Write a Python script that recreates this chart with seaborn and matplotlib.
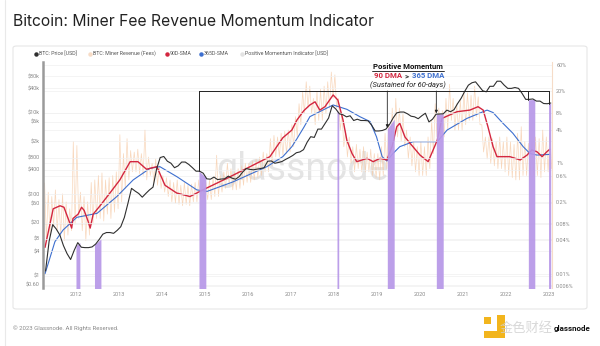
import numpy as np
import matplotlib
matplotlib.use("Agg")
import matplotlib.pyplot as plt
import seaborn as sns
from matplotlib.lines import Line2D
from matplotlib.patches import FancyBboxPatch, Rectangle
from matplotlib.ticker import NullLocator

# ---------------- data ----------------
# Monthly BTC price in USD, Apr 2011 .. Jan 2023
price_usd = [
    1.3, 7, 18, 14, 10, 5.5, 3.5, 2.5, 4.2,
    6.5, 5.0, 4.9, 4.9, 5.1, 6.0, 7.8, 10.5, 11.5, 11.5, 11.0, 13.0,
    16, 27, 60, 140, 120, 105, 85, 105, 128, 150, 420, 800,
    850, 650, 580, 450, 500, 620, 620, 540, 450, 370, 370, 330,
    240, 235, 265, 230, 237, 240, 280, 250, 235, 270, 350, 430,
    410, 400, 415, 430, 450, 650, 660, 580, 605, 640, 720, 800,
    900, 1050, 1100, 1250, 1900, 2600, 2500, 4000, 4000, 5500, 7500, 15000,
    12500, 9500, 9000, 8000, 8500, 6500, 7000, 6500, 6500, 6400, 5000, 3600,
    3600, 3700, 4000, 5200, 7500, 10000, 10500, 10500, 9500, 8300, 8000, 7200,
    8500, 9800, 6000, 7000, 9300, 9400, 9500, 11700, 10700, 12000, 17000, 23000,
    34000, 48000, 55000, 58000, 45000, 35000, 33000, 45000, 45000, 60000, 60000, 48000,
    40000, 40000, 42000, 40000, 30000, 21500, 21500, 22000, 19500, 19500, 17000, 16800,
    17500,
]

# Fee share of miner revenue (%), monthly high / low, Apr 2011 .. Jan 2023
fee_share_high = [
    0.44, 0.30, 0.25, 0.33, 0.22, 0.28, 0.20, 0.15, 2.5,
    2.1, 0.30, 0.25, 0.20, 0.45, 0.50, 0.60, 0.67, 0.50, 0.55, 0.60, 0.70,
    3.3, 1.5, 2.8, 1.7, 1.6, 1.8, 1.5, 4.0, 1.3, 1.0, 1.2, 0.9,
    0.6, 0.55, 0.5, 0.45, 0.5, 0.4, 0.45, 0.4, 0.42, 0.45, 0.5, 0.45,
    0.45, 0.5, 0.55, 1.4, 0.6, 0.7, 1.0, 0.8, 0.7, 0.8, 0.9, 1.0,
    1.0, 1.1, 1.2, 1.3, 1.6, 1.5, 2.8, 3.2, 3.0, 3.5, 3.8, 4.0,
    5, 7, 12, 20, 30, 25, 15, 20, 22, 25, 30, 45,
    40, 15, 8, 4, 3, 2, 2.2, 1.8, 2.0, 1.6, 1.8, 1.5,
    1.5, 2, 3.5, 5, 10, 15, 10, 8, 4, 3, 2.5, 2,
    2.5, 2.0, 3.0, 6, 12, 10, 9, 15, 27, 15, 12, 14,
    20, 19, 17, 25, 16, 5, 3, 3, 2.8, 2.5, 3.0, 2.5,
    3, 2.5, 2.2, 3.5, 4.6, 2.5, 2.3, 2.5, 3.0, 2.8, 4.0, 3.0,
    3.5,
]
fee_share_low = [
    0.04, 0.05, 0.07, 0.06, 0.05, 0.04, 0.05, 0.06, 0.08,
    0.10, 0.06, 0.04, 0.05, 0.08, 0.10, 0.10, 0.09, 0.12, 0.10, 0.13, 0.15,
    0.2, 0.35, 0.5, 0.7, 0.7, 0.65, 0.6, 0.5, 0.6, 0.45, 0.4, 0.35,
    0.3, 0.25, 0.2, 0.19, 0.18, 0.17, 0.18, 0.17, 0.2, 0.2, 0.22, 0.22,
    0.22, 0.22, 0.25, 0.25, 0.3, 0.35, 0.4, 0.33, 0.33, 0.35, 0.4, 0.45,
    0.45, 0.5, 0.55, 0.6, 0.7, 0.7, 0.9, 1.3, 1.3, 1.4, 1.5, 1.6,
    2, 3, 5, 8, 10, 8, 5, 6, 6, 8, 10, 15,
    10, 4, 2, 1.3, 1.0, 0.7, 0.8, 0.7, 0.7, 0.7, 0.6, 0.55,
    0.5, 0.6, 0.8, 1.5, 2.5, 3, 2.5, 2, 1.2, 0.9, 0.7, 0.6,
    0.6, 0.6, 0.8, 1.5, 3, 3, 3, 4, 6, 4, 4, 4,
    5, 6, 6, 7, 5, 1.6, 1.2, 1.0, 0.9, 0.8, 0.8, 0.7,
    0.6, 0.55, 0.5, 0.5, 0.6, 0.6, 0.6, 0.6, 0.6, 0.55, 0.7, 0.7,
    0.8,
]

# 90-day SMA of fee share (%)
sma90_year = [2011.28, 2011.47, 2011.63, 2011.72, 2011.90, 2011.93, 2012.05, 2012.13,
              2012.19, 2012.28, 2012.33, 2012.40, 2012.56, 2012.79, 2013.02, 2013.26,
              2013.44, 2013.64, 2013.88, 2014.07, 2014.34, 2014.65, 2014.95, 2015.50,
              2016.05, 2016.51, 2016.81, 2017.02, 2017.14, 2017.30, 2017.44, 2017.56,
              2017.67, 2017.79, 2017.98, 2018.09, 2018.21, 2018.30, 2018.42, 2018.53,
              2018.77, 2018.91, 2019.07, 2019.23, 2019.35, 2019.46, 2019.53, 2019.65,
              2019.77, 2020.00, 2020.19, 2020.40, 2020.51, 2020.86, 2021.16, 2021.35,
              2021.47, 2021.58, 2021.70, 2021.79, 2022.09, 2022.33, 2022.49, 2022.60,
              2022.72, 2022.84, 2022.95, 2023.02]
sma90_pct = [0.03, 0.15, 0.17, 0.16, 0.067, 0.10, 0.12, 0.16,
             0.14, 0.09, 0.067, 0.12, 0.17, 0.29, 0.5, 1.07,
             1.07, 0.78, 0.87, 0.40, 0.29, 0.25, 0.33, 0.53,
             0.87, 1.32, 2.9, 4.0, 6.1, 9.0, 11.4, 13.0,
             9.2, 10.6, 17.3, 14.0, 6.1, 2.6, 1.5, 1.07,
             1.23, 1.07, 1.23, 1.15, 2.0, 4.6, 5.3, 3.0,
             2.3, 1.41, 1.07, 2.6, 6.5, 8.6, 9.2, 10.6,
             9.2, 4.6, 2.0, 1.32, 1.32, 1.15, 1.41, 1.74,
             1.62, 1.32, 1.62, 1.8]

# 365-day SMA of fee share (%)
sma365_year = [2011.28, 2011.40, 2011.51, 2011.70, 2012.02, 2012.49, 2012.95, 2013.33,
               2013.72, 2013.95, 2014.35, 2014.81, 2015.05, 2015.65, 2016.44, 2016.81,
               2017.02, 2017.14, 2017.30, 2017.44, 2017.74, 2017.98, 2018.30, 2018.60,
               2018.84, 2018.99, 2019.12, 2019.23, 2019.37, 2019.53, 2019.84, 2020.40,
               2020.63, 2021.09, 2021.56, 2021.70, 2021.93, 2022.16, 2022.40, 2022.56,
               2022.72, 2023.02]
sma365_pct = [0.010, 0.020, 0.038, 0.062, 0.105, 0.124, 0.25, 0.50,
              0.81, 0.87, 0.57, 0.33, 0.31, 0.46, 0.87, 1.32,
              2.0, 2.8, 4.5, 7.0, 9.2, 11.4, 9.5, 7.0,
              5.7, 3.0, 1.32, 1.1, 1.5, 2.0, 2.46, 2.46,
              4.0, 6.5, 9.2, 8.3, 5.3, 3.5, 2.0, 1.5,
              1.41, 1.45]

# Positive momentum periods (90D SMA above 365D SMA, sustained 60 days)
momentum_start = [2012.00, 2012.43, 2014.86, 2018.07, 2019.24, 2020.38, 2022.52, 2022.99]
momentum_end = [2012.09, 2012.58, 2015.02, 2018.11, 2019.40, 2020.54, 2022.67, 2023.04]
momentum_usd_start = [5.5, 5.8, 370, 12000, 4100, 9300, 21000, 16900]
momentum_usd_end = [6.5, 8.0, 260, 10000, 7000, 9500, 21500, 17500]

year_ticks = list(range(2012, 2024))
price_ticks = [80000, 40000, 10000, 6000, 2000, 800, 400, 100, 60, 20, 8, 4, 1, 0.6]
price_tick_labels = ["$80k", "$40k", "$10k", "$6k", "$2k", "$800", "$400", "$100",
                     "$60", "$20", "$8", "$4", "$1", "$0.60"]
pct_ticks = [60, 20, 8, 4, 1, 0.6, 0.2, 0.08, 0.04, 0.01, 0.006]
pct_tick_labels = ["60%", "20%", "8%", "4%", "1%", "0.6%", "0.2%", "0.08%",
                   "0.04%", "0.01%", "0.006%"]

# ---------------- colours ----------------
C_PRICE = "#2f2f2f"
C_FEE = "#f6caa6"
C_SMA90 = "#d3263f"
C_SMA365 = "#3d6fcf"
C_MOM = "#b797e8"
C_TICK = "#8a8a8a"

W, H = 600, 346


def fx(px):
    return px / W


def fy(py):
    return 1 - py / H


sns.set_theme(style="white")
plt.rcParams["font.family"] = ["Roboto", "DejaVu Sans"]

fig = plt.figure(figsize=(6, 3.46), dpi=100, facecolor="white")

# card behind the chart
card = FancyBboxPatch((fx(13), fy(309)), (587 - 13) / W, (309 - 46) / H,
                      boxstyle="round,pad=0,rounding_size=0.006",
                      transform=fig.transFigure, fc="white", ec="#e6e6e6",
                      lw=0.8, zorder=-2)
fig.add_artist(card)
fig.add_artist(Line2D([fx(4.5), fx(4.5)], [0, 1], transform=fig.transFigure,
                      color="#e9e9e9", lw=0.8, zorder=-2))

ax = fig.add_axes([fx(43), fy(288), (552 - 43) / W, (288 - 62) / H])
ax2 = ax.twinx()
ax.set_zorder(ax2.get_zorder() + 1)
ax.patch.set_visible(False)

n = len(price_usd)
t_month = 2011 + (3 + np.arange(n) + 0.5) / 12

# fee share: zig-zag between monthly high and low readings
t_fee = np.column_stack([t_month - 1 / 48, t_month + 1 / 48]).ravel()
v_fee = np.column_stack([fee_share_high, fee_share_low]).ravel()

ax2.set_yscale("log")
ax2.set_ylim(0.00551, 68.4)
sns.lineplot(x=t_fee, y=v_fee, ax=ax2, color=C_FEE, lw=0.5, alpha=0.75,
             sort=False, estimator=None, zorder=2)
sns.lineplot(x=sma365_year, y=sma365_pct, ax=ax2, color=C_SMA365, lw=0.8,
             sort=False, estimator=None, zorder=3)
sns.lineplot(x=sma90_year, y=sma90_pct, ax=ax2, color=C_SMA90, lw=1.0,
             sort=False, estimator=None, zorder=4)
ax2.text(fx(302), fy(170), "glassnode", transform=fig.transFigure, ha="center",
         va="center", fontsize=27, color="#d9d9d9", alpha=0.7, zorder=1,
         family=["Roboto", "DejaVu Sans"])

ax.set_yscale("log")
ax.set_ylim(0.499, 178000)
ax.set_xlim(2011.233, 2023.07)

for s, e, ts, te in zip(momentum_start, momentum_end, momentum_usd_start, momentum_usd_end):
    ax.fill_between([s, e], [0.3, 0.3], [ts, te], color=C_MOM, lw=0, alpha=0.92, zorder=2)

sns.lineplot(x=t_month, y=price_usd, ax=ax, color=C_PRICE, lw=0.8,
             sort=False, estimator=None, zorder=3)

# bracket linking the momentum periods
bracket_usd = 34500
linked = [2, 4, 5, 6, 7]
ax.plot([momentum_start[linked[0]], momentum_start[linked[-1]]], [bracket_usd, bracket_usd],
        color="#222222", lw=0.7, zorder=5)
for i in linked:
    if i in (4, 5):
        ax.annotate("", xy=(momentum_start[i], momentum_usd_start[i] * 1.05),
                    xytext=(momentum_start[i], bracket_usd),
                    arrowprops=dict(arrowstyle="-|>", color="#222222", lw=0.6,
                                    mutation_scale=4, shrinkA=0, shrinkB=0), zorder=5)
    else:
        ax.plot([momentum_start[i], momentum_start[i]], [bracket_usd, momentum_usd_start[i]],
                color="#222222", lw=0.7, zorder=5)

# axes styling
for a in (ax, ax2):
    a.grid(False)
    a.yaxis.set_minor_locator(NullLocator())
    for sp in ("top", "bottom"):
        a.spines[sp].set_visible(False)
ax.spines["right"].set_visible(False)
ax2.spines["left"].set_visible(False)
ax.spines["left"].set_color("#9a9a9a")
ax.spines["left"].set_linewidth(1.8)
ax2.spines["right"].set_color("#f6dcc8")
ax2.spines["right"].set_linewidth(0.8)

ax.set_yticks(price_ticks)
ax.set_yticklabels(price_tick_labels)
ax2.set_yticks(pct_ticks)
ax2.set_yticklabels(pct_tick_labels)
ax.set_xticks(year_ticks)
ax.set_xticklabels([str(y) for y in year_ticks])
ax.tick_params(axis="y", length=0, labelsize=4, labelcolor=C_TICK, pad=2.5)
ax2.tick_params(axis="y", length=0, labelsize=4, labelcolor=C_TICK, pad=3)
ax.tick_params(axis="x", length=0, labelsize=4, labelcolor=C_TICK, pad=3)
ax.set_xlabel("")
ax.set_ylabel("")
ax2.set_ylabel("")
ax2.grid(axis="y", color="#f0f0f0", lw=0.5, zorder=0)
ax2.set_axisbelow(True)
ax.grid(axis="y", color="#f0f0f0", lw=0.5, zorder=0)
ax.set_axisbelow(True)

# title, legend, footer
fig.text(fx(13), fy(22), "Bitcoin: Miner Fee Revenue Momentum Indicator", fontsize=11.3,
         color="#222222", ha="left", va="center", family=["Inter", "DejaVu Sans"])

legend_items = [
    (36.4, "BTC: Price [USD]", C_PRICE),
    (90, "BTC: Miner Revenue (Fees)", "#f7dcc6"),
    (166.7, "90D-SMA", C_SMA90),
    (201, "365D-SMA", C_SMA365),
    (242, "Positive Momentum Indicator [USD]", "#e2e2e2"),
]
for px, label, col in legend_items:
    fig.add_artist(Line2D([fx(px)], [fy(53.5)], transform=fig.transFigure, marker="o",
                          ms=2.2, color=col, lw=0))
    fig.text(fx(px + 3), fy(53.5), label, fontsize=3.8, color="#555555",
             ha="left", va="center")

fig.text(fx(13.3), fy(328), "\u00a9 2023 Glassnode. All Rights Reserved.", fontsize=4.3,
         color="#8a8a8a", ha="left", va="center")

# annotation text
fig.text(fx(408), fy(66.5), "Positive Momentum", fontsize=5.6, fontweight="bold",
         color="#111111", ha="center", va="center")
fig.add_artist(Line2D([fx(372), fx(444)], [fy(70.8), fy(70.8)], transform=fig.transFigure,
                      color="#111111", lw=0.6))
fig.text(fx(402), fy(75.7), "90 DMA", fontsize=5.6, fontweight="bold", color=C_SMA90,
         ha="right", va="center")
fig.text(fx(406.7), fy(75.7), ">", fontsize=5.6, fontweight="bold", color="#333333",
         ha="center", va="center")
fig.text(fx(411.5), fy(75.7), "365 DMA", fontsize=5.6, fontweight="bold", color=C_SMA365,
         ha="left", va="center")
fig.text(fx(408), fy(85), "(Sustained for 60-days)", fontsize=5.4, style="italic",
         color="#222222", ha="center", va="center")

# corner marks
for (x0, y0, x1, y1) in [(484, 317, 491, 324), (497, 315, 505, 338), (484, 331, 505, 338)]:
    fig.add_artist(Rectangle((fx(x0), fy(y1)), (x1 - x0) / W, (y1 - y0) / H,
                             transform=fig.transFigure, fc="#f2b51d", ec="none"))
fig.text(fx(526), fy(328), "金色财经", fontsize=9.5, color="#cfcfcf", alpha=0.8,
         ha="center", va="center", family=["Noto Sans CJK SC", "DejaVu Sans"])
fig.text(fx(572), fy(329), "glassnode", fontsize=5.8, fontweight="bold", color="#111111",
         ha="center", va="center")

fig.savefig("out.png", dpi=100, facecolor="white")
